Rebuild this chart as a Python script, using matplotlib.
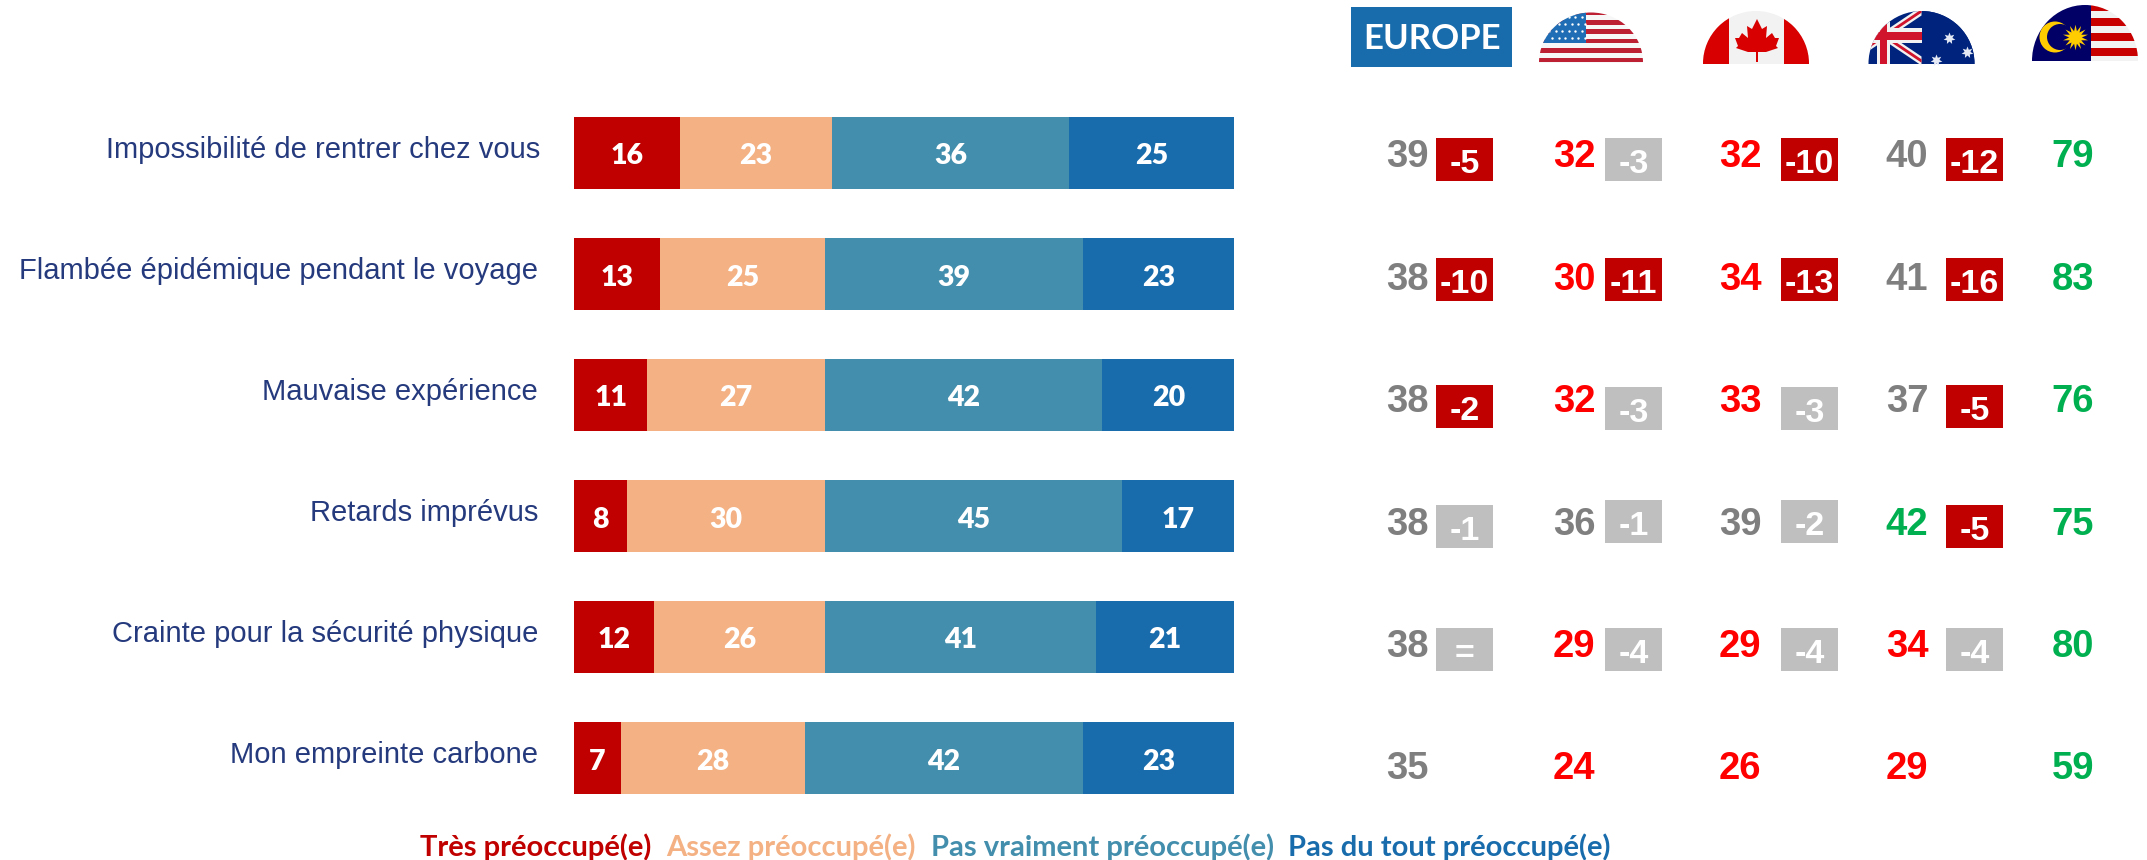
import numpy as np
import matplotlib
matplotlib.use("Agg")
import matplotlib.pyplot as plt
from matplotlib.patches import Rectangle, Polygon, Ellipse, Circle

categories = [
    "Impossibilité de rentrer chez vous",
    "Flambée épidémique pendant le voyage",
    "Mauvaise expérience",
    "Retards imprévus",
    "Crainte pour la sécurité physique",
    "Mon empreinte carbone",
]
tres = [16, 13, 11, 8, 12, 7]
assez = [23, 25, 27, 30, 26, 28]
pas_vraiment = [36, 39, 42, 45, 41, 42]
pas_du_tout = [25, 23, 20, 17, 21, 23]
series_names = ["Très préoccupé(e)", "Assez préoccupé(e)", "Pas vraiment préoccupé(e)", "Pas du tout préoccupé(e)"]
series_colors = ["#C00000", "#F4B183", "#428EAC", "#196CAC"]

europe = [39, 38, 38, 38, 38, 35]
usa = [32, 30, 32, 36, 29, 24]
canada = [32, 34, 33, 39, 29, 26]
australia = [40, 41, 37, 42, 34, 29]
malaysia = [79, 83, 76, 75, 80, 59]
europe_diff = ["-5", "-10", "-2", "-1", "=", None]
usa_diff = ["-3", "-11", "-3", "-1", "-4", None]
canada_diff = ["-10", "-13", "-3", "-2", "-4", None]
australia_diff = ["-12", "-16", "-5", "-5", "-4", None]

W, H = 2147, 860
fig = plt.figure(figsize=(W / 100, H / 100), dpi=100, facecolor="white")
bg = fig.add_axes([0, 0, 1, 1])
bg.set_xlim(0, W)
bg.set_ylim(H, 0)
bg.axis("off")

# bars
ax = fig.add_axes([574.4 / W, 1 - 794 / H, 660 / W, 677 / H])
ax.set_xlim(0, 100)
row_px = 121
ax.set_ylim(5 + (794 - 152.5 - 605) / row_px, (117 - 152.5) / row_px)
ax.axis("off")
ypos = np.arange(6)
left = np.zeros(6)
for vals, col in zip([tres, assez, pas_vraiment, pas_du_tout], series_colors):
    ax.barh(ypos, vals, left=left, height=72 / row_px, color=col)
    for i, v in enumerate(vals):
        ax.text(left[i] + v / 2, i + 4 / row_px, str(v), ha="center", va="center", color="white",
                fontsize=20.5, fontweight="heavy", family="Lato")
    left = left + np.array(vals)

for i, c in enumerate(categories):
    bg.text(540 if i == 0 else 538, 150 + i * row_px, c, ha="right", va="center", color="#253A7D",
            fontsize=21, family="Liberation Sans")

# right hand columns
cols = [europe, usa, canada, australia, malaysia]
diffs = [europe_diff, usa_diff, canada_diff, australia_diff]
col_x = [1407.5, 1574, 1740, 1907, 2073]
box_x = [1436, 1605, 1781, 1946]
val_base = [167, 290, 412, 535, 657, 779]
box_top = [
    [138, 258, 385, 505, 628],
    [138, 258, 387, 500, 628],
    [138, 258, 387, 500, 628],
    [138, 258, 385, 505, 628],
]


def val_color(v, col):
    if col == 4 or (col == 3 and v > 41):
        return "#00B050"
    if col == 0 or (col == 3 and v >= 35) or v >= 36:
        return "#7F7F7F"
    return "#FF0000"


for c, vals in enumerate(cols):
    for i, v in enumerate(vals):
        bg.text(col_x[c], val_base[i], str(v), ha="center", va="baseline", color=val_color(v, c),
                fontsize=27.5, fontweight="bold", family="Liberation Sans")
for c, ds in enumerate(diffs):
    for i, d in enumerate(ds):
        if d is None:
            continue
        y0 = box_top[c][i]
        num = 0 if d == "=" else int(d)
        colr = "#C00000" if (num <= -5 or (c == 0 and num == -2)) else "#BFBFBF"
        bg.add_patch(Rectangle((box_x[c], y0), 57, 43, color=colr, lw=0))
        bg.text(box_x[c] + 28.5, y0 + 35, d, ha="center", va="baseline", color="white",
                fontsize=24.5, fontweight="bold", family="Liberation Sans")

# legend
leg_x = [420, 666, 931, 1288]
for x, name, col in zip(leg_x, series_names, series_colors):
    bg.text(x, 847, name, ha="left", va="center", color=col, fontsize=21, fontweight="bold", family="Lato")

# header
bg.add_patch(Rectangle((1351, 7), 161, 60, color="#196CAC", lw=0))
bg.text(1432, 39, "EUROPE", ha="center", va="center", color="white", fontsize=25, fontweight="bold", family="Lato")


def dome(cx, base, rx, ry):
    return Ellipse((cx, base), 2 * rx, 2 * ry, transform=bg.transData)


def clipped(artist, clip):
    bg.add_artist(artist)
    artist.set_clip_path(clip)


# usa
clip = dome(1591, 62.5, 52, 50)
clipped(Rectangle((1539, 10), 104, 52.5, color="#F7F7F7", lw=0), clip)
for k in range(6):
    clipped(Rectangle((1539, 10.5 + k * 9.45), 104, 4.6, color="#BE2033", lw=0), clip)
clipped(Rectangle((1539, 10), 47, 33, color="#1F6DB5", lw=0), clip)
for r in range(4):
    for k in range(6):
        sc = bg.scatter(1549 + k * 6.5 + (r % 2) * 3, 17 + r * 7, s=3, color="white", lw=0, zorder=3)
        sc.set_clip_path(clip)

# canada
clip = dome(1756, 63.5, 53, 52.5)
clipped(Rectangle((1703, 10), 106, 53.5, color="#F2F2F2", lw=0), clip)
clipped(Rectangle((1703, 10), 26, 53.5, color="#D80000", lw=0), clip)
clipped(Rectangle((1784, 10), 26, 53.5, color="#D80000", lw=0), clip)
leaf = [(1757, 19), (1762, 29), (1767, 26), (1766, 38), (1772, 33), (1775, 38), (1779, 38), (1776, 46), (1778, 48),
        (1766, 52), (1758, 52), (1758, 62), (1756, 62), (1756, 52), (1748, 52), (1736, 48), (1738, 46), (1735, 38),
        (1739, 38), (1742, 33), (1748, 38), (1747, 26), (1752, 29)]
bg.add_patch(Polygon(leaf, color="#D80000", lw=0))

# australia
clip = dome(1921.5, 63.5, 53, 52.5)
clipped(Rectangle((1868, 10), 107, 53.5, color="#00247D", lw=0), clip)
cx, cy = 1884, 36
for sign in [-1, 1]:
    for half, colr in [(4.5, "#F2F2F2"), (1.7, "#CF142B")]:
        clipped(Polygon([(1921.5, cy + sign * 25 - half), (1921.5, cy + sign * 25 + half),
                         (cx - 37, cy - sign * 25 + half), (cx - 37, cy - sign * 25 - half)],
                        color=colr, lw=0), clip)
clipped(Rectangle((1921.5, 10), 60, 54, color="#00247D", lw=0), clip)
clipped(Rectangle((1877, 10), 13, 54, color="#F2F2F2", lw=0), clip)
clipped(Rectangle((1868, 28), 53.5, 15, color="#F2F2F2", lw=0), clip)
clipped(Rectangle((1880, 10), 7, 54, color="#CF142B", lw=0), clip)
clipped(Rectangle((1868, 32), 53.5, 8, color="#CF142B", lw=0), clip)
for sx, sy in [(1949, 38), (1967, 52), (1936, 60)]:
    sc = bg.scatter(sx, sy, s=75, marker=(7, 1, 0), color="#E4E9F5", lw=0, zorder=3)
    sc.set_clip_path(clip)

# malaysia
clip = dome(2085, 61, 53, 56)
clipped(Rectangle((2032, 5), 106, 56, color="#F2F2F2", lw=0), clip)
for k in range(4):
    clipped(Rectangle((2091, 3 + k * 15), 50, 7.5, color="#C80000", lw=0), clip)
clipped(Rectangle((2032, 5), 59, 56, color="#010066", lw=0), clip)
bg.add_patch(Circle((2055, 37), 15.5, color="#FFCC00", lw=0))
bg.add_patch(Circle((2060, 37), 13, color="#010066", lw=0))
bg.scatter(2075, 37, s=340, marker=(14, 1, 0), color="#FFCC00", lw=0, zorder=3)

fig.savefig("out.png", dpi=100)
